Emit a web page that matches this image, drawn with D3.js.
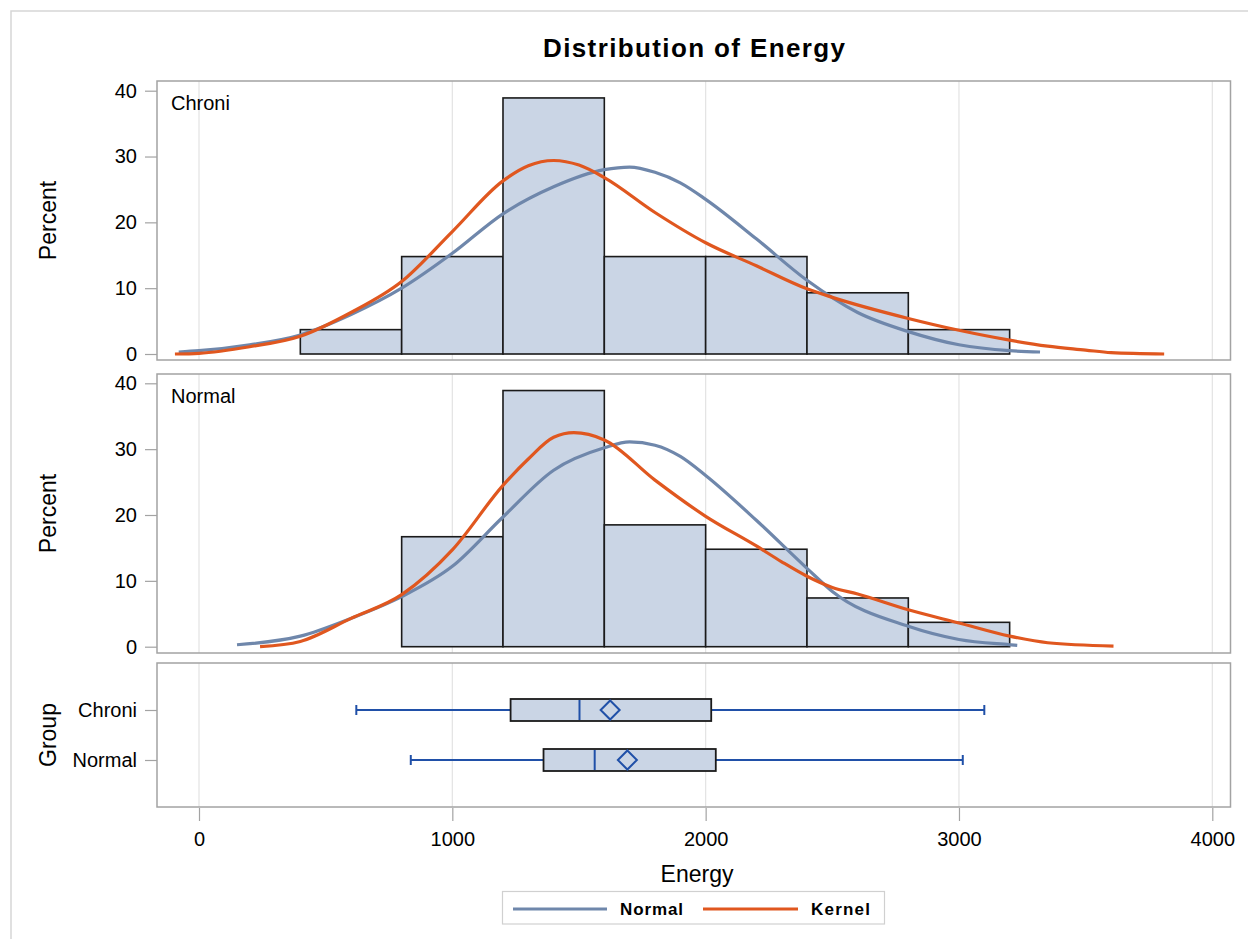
<!DOCTYPE html>
<html>
<head>
<meta charset="utf-8">
<script src="https://cdn.jsdelivr.net/npm/d3@7"></script>
<style>
  body { margin: 0; background: #fff; }
  text { font-family: "Liberation Sans", Arial, sans-serif; fill: #000; }
</style>
</head>
<body>
<svg id="chart" width="1248" height="939"></svg>
<script>
// ---- data ----
const binStarts = [400, 800, 1200, 1600, 2000, 2400, 2800];
const binWidth = 400;
const chroniPct = [3.7, 14.8, 38.9, 14.8, 14.8, 9.3, 3.7];
const normalPct = [0, 16.7, 38.9, 18.5, 14.8, 7.4, 3.7];

// fitted curves: [Energy, Percent]
const chroniNormalFit = [[-80,0.3],[0,0.5],[200,1.4],[400,2.9],[600,6.0],[800,10.0],[1000,15.3],[1200,21.3],[1400,25.4],[1600,28.0],[1700,28.4],[1800,27.6],[1900,26.0],[2000,23.5],[2200,17.5],[2400,11.2],[2600,6.3],[2800,3.4],[3000,1.4],[3200,0.5],[3320,0.3]];
const chroniKernel = [[-95,0],[0,0.1],[200,1.1],[400,2.7],[600,6.3],[800,11.0],[1000,18.6],[1200,26.3],[1300,28.6],[1400,29.4],[1500,28.7],[1600,26.8],[1800,21.5],[2000,16.9],[2200,13.4],[2400,9.9],[2500,8.6],[2800,5.4],[3000,3.6],[3200,2.1],[3350,1.2],[3500,0.6],[3600,0.2],[3810,0]];
const normalNormalFit = [[150,0.3],[400,1.6],[600,4.3],[800,7.6],[1000,12.2],[1200,19.7],[1400,26.8],[1600,30.2],[1700,31.1],[1800,30.6],[1900,28.9],[2000,26.0],[2200,19.2],[2400,11.9],[2500,8.4],[2800,3.1],[3000,1.1],[3200,0.3],[3230,0.2]];
const normalKernel = [[241,0],[400,0.8],[600,4.3],[800,7.9],[1000,14.7],[1200,24.5],[1300,28.5],[1400,31.8],[1480,32.5],[1600,31.4],[1800,25.3],[2000,19.8],[2200,15.3],[2300,12.9],[2400,10.7],[2500,9.0],[2600,8.0],[2800,5.6],[3000,3.6],[3200,1.6],[3350,0.6],[3610,0.1]];

// box plot summaries
const groups = ["Chroni", "Normal"];
const boxMin = [621, 836];
const boxQ1 = [1230, 1360];
const boxMedian = [1502, 1562];
const boxMean = [1623, 1691];
const boxQ3 = [2022, 2040];
const boxMax = [3100, 3015];

const xTicks = [0, 1000, 2000, 3000, 4000];
const yTicks = [0, 10, 20, 30, 40];
const legendItems = ["Normal", "Kernel"];

// ---- styles ----
const barFill = "#cad5e5";
const fitColor = "#6f87ab";
const kernelColor = "#e0571f";
const boxLine = "#2050a8";
const frameColor = "#a3a3a3";
const gridColor = "#e3e3e3";

const svg = d3.select("#chart");

// outer border
svg.append("rect").attr("x", 11).attr("y", 11).attr("width", 1300).attr("height", 1000)
  .attr("fill", "none").attr("stroke", "#d6d6d6").attr("stroke-width", 1.5);

// title
svg.append("text").attr("x", 694).attr("y", 57).attr("text-anchor", "middle")
  .attr("font-size", 26).attr("font-weight", "bold")
  .attr("textLength", 302).attr("lengthAdjust", "spacing")
  .text("Distribution of Energy");

const frameL = 157, frameR = 1230.5;
const x = d3.scaleLinear().domain([0, 4000]).range([199, 1212.3]);

const panels = [
  { label: "Chroni", pct: chroniPct, fit: chroniNormalFit, kern: chroniKernel, top: 81, bottom: 360, y0: 354, y40: 90.7 },
  { label: "Normal", pct: normalPct, fit: normalNormalFit, kern: normalKernel, top: 374, bottom: 653, y0: 646.7, y40: 383.3 }
];

const line = d3.line().curve(d3.curveMonotoneX);

panels.forEach(p => {
  const y = d3.scaleLinear().domain([0, 40]).range([p.y0, p.y40]);
  const g = svg.append("g");

  // vertical grid
  g.selectAll("line.grid").data(xTicks).join("line")
    .attr("x1", d => x(d)).attr("x2", d => x(d))
    .attr("y1", p.top).attr("y2", p.bottom)
    .attr("stroke", gridColor).attr("stroke-width", 1.2);

  // histogram bars
  const bins = binStarts.map((s, i) => ({ s, v: p.pct[i] })).filter(d => d.v > 0);
  g.selectAll("rect.bar").data(bins).join("rect")
    .attr("x", d => x(d.s)).attr("width", d => x(d.s + binWidth) - x(d.s))
    .attr("y", d => y(d.v)).attr("height", d => y(0) - y(d.v))
    .attr("fill", barFill).attr("stroke", "#1a1a1a").attr("stroke-width", 1.6);

  // fitted curves
  g.append("path").attr("d", line.x(d => x(d[0])).y(d => y(d[1]))(p.fit))
    .attr("fill", "none").attr("stroke", fitColor).attr("stroke-width", 3.2);
  g.append("path").attr("d", line.x(d => x(d[0])).y(d => y(d[1]))(p.kern))
    .attr("fill", "none").attr("stroke", kernelColor).attr("stroke-width", 3.2);

  // frame
  g.append("rect").attr("x", frameL).attr("y", p.top)
    .attr("width", frameR - frameL).attr("height", p.bottom - p.top)
    .attr("fill", "none").attr("stroke", frameColor).attr("stroke-width", 1.5);

  // y axis
  const ax = g.append("g").attr("transform", `translate(${frameL},0)`)
    .call(d3.axisLeft(y).tickValues(yTicks).tickSize(12).tickPadding(8));
  ax.select(".domain").remove();
  ax.selectAll("line").attr("stroke", frameColor).attr("stroke-width", 1.2);
  ax.selectAll("text").attr("font-size", 20).attr("font-family", "Liberation Sans, Arial, sans-serif").attr("fill", "#000");

  // panel label
  g.append("text").attr("x", 171).attr("y", p.top + 29).attr("font-size", 20).text(p.label);

  // axis title
  g.append("text").attr("transform", `translate(56,${(p.top + p.bottom) / 2}) rotate(-90)`)
    .attr("text-anchor", "middle").attr("font-size", 23).text("Percent");
});

// ---- box plot panel ----
const bTop = 663, bBottom = 807;
const yb = d3.scalePoint().domain(groups).range([bTop, bBottom]).padding(0.94);
const gb = svg.append("g");

gb.selectAll("line.grid").data(xTicks).join("line")
  .attr("x1", d => x(d)).attr("x2", d => x(d))
  .attr("y1", bTop).attr("y2", bBottom)
  .attr("stroke", gridColor).attr("stroke-width", 1.2);

const boxH = 22;
const boxes = groups.map((g, i) => ({ g, min: boxMin[i], q1: boxQ1[i], med: boxMedian[i], mean: boxMean[i], q3: boxQ3[i], max: boxMax[i] }));

boxes.forEach(b => {
  const cy = yb(b.g);
  // whiskers
  gb.append("line").attr("x1", x(b.min)).attr("x2", x(b.q1)).attr("y1", cy).attr("y2", cy)
    .attr("stroke", boxLine).attr("stroke-width", 2);
  gb.append("line").attr("x1", x(b.q3)).attr("x2", x(b.max)).attr("y1", cy).attr("y2", cy)
    .attr("stroke", boxLine).attr("stroke-width", 2);
  [b.min, b.max].forEach(v => {
    gb.append("line").attr("x1", x(v)).attr("x2", x(v)).attr("y1", cy - 5).attr("y2", cy + 5)
      .attr("stroke", boxLine).attr("stroke-width", 2);
  });
  // box
  gb.append("rect").attr("x", x(b.q1)).attr("width", x(b.q3) - x(b.q1))
    .attr("y", cy - boxH / 2).attr("height", boxH)
    .attr("fill", barFill).attr("stroke", "#1a1a1a").attr("stroke-width", 1.8);
  // median
  gb.append("line").attr("x1", x(b.med)).attr("x2", x(b.med))
    .attr("y1", cy - boxH / 2 + 1).attr("y2", cy + boxH / 2 - 1)
    .attr("stroke", boxLine).attr("stroke-width", 2);
  // mean diamond
  const mx = x(b.mean), r = 9.5;
  gb.append("path").attr("d", `M${mx},${cy - r}L${mx + r},${cy}L${mx},${cy + r}L${mx - r},${cy}Z`)
    .attr("fill", "none").attr("stroke", boxLine).attr("stroke-width", 2);
});

gb.append("rect").attr("x", frameL).attr("y", bTop)
  .attr("width", frameR - frameL).attr("height", bBottom - bTop)
  .attr("fill", "none").attr("stroke", frameColor).attr("stroke-width", 1.5);

const axG = gb.append("g").attr("transform", `translate(${frameL},0)`)
  .call(d3.axisLeft(yb).tickSize(12).tickPadding(8));
axG.select(".domain").remove();
axG.selectAll("line").attr("stroke", frameColor).attr("stroke-width", 1.2);
axG.selectAll("text").attr("font-size", 20).attr("font-family", "Liberation Sans, Arial, sans-serif").attr("fill", "#000");

gb.append("text").attr("transform", `translate(56,${(bTop + bBottom) / 2}) rotate(-90)`)
  .attr("text-anchor", "middle").attr("font-size", 23).text("Group");

// x axis
const axX = svg.append("g").attr("transform", `translate(0,${bBottom + 1})`)
  .call(d3.axisBottom(x).tickValues(xTicks).tickFormat(d3.format("d")).tickSize(13).tickPadding(11));
axX.select(".domain").remove();
axX.selectAll("line").attr("stroke", frameColor).attr("stroke-width", 1.2);
axX.selectAll("text").attr("font-size", 20).attr("font-family", "Liberation Sans, Arial, sans-serif").attr("fill", "#000");

svg.append("text").attr("x", 697).attr("y", 882).attr("text-anchor", "middle")
  .attr("font-size", 23).text("Energy");

// legend
const lg = svg.append("g");
lg.append("rect").attr("x", 502.5).attr("y", 891.5).attr("width", 382).attr("height", 32.5)
  .attr("fill", "#fff").attr("stroke", "#d0d0d0").attr("stroke-width", 1.2);
const legendCfg = [
  { name: legendItems[0], color: fitColor, x1: 513, x2: 607, tx: 620, tw: 63 },
  { name: legendItems[1], color: kernelColor, x1: 703, x2: 798, tx: 811, tw: 59 }
];
legendCfg.forEach(l => {
  lg.append("line").attr("x1", l.x1).attr("x2", l.x2).attr("y1", 909).attr("y2", 909)
    .attr("stroke", l.color).attr("stroke-width", 3);
  lg.append("text").attr("x", l.tx).attr("y", 914.5).attr("font-size", 17).attr("font-weight", "bold")
    .attr("fill", "#222")
    .attr("textLength", l.tw).attr("lengthAdjust", "spacing").text(l.name);
});
</script>
</body>
</html>
